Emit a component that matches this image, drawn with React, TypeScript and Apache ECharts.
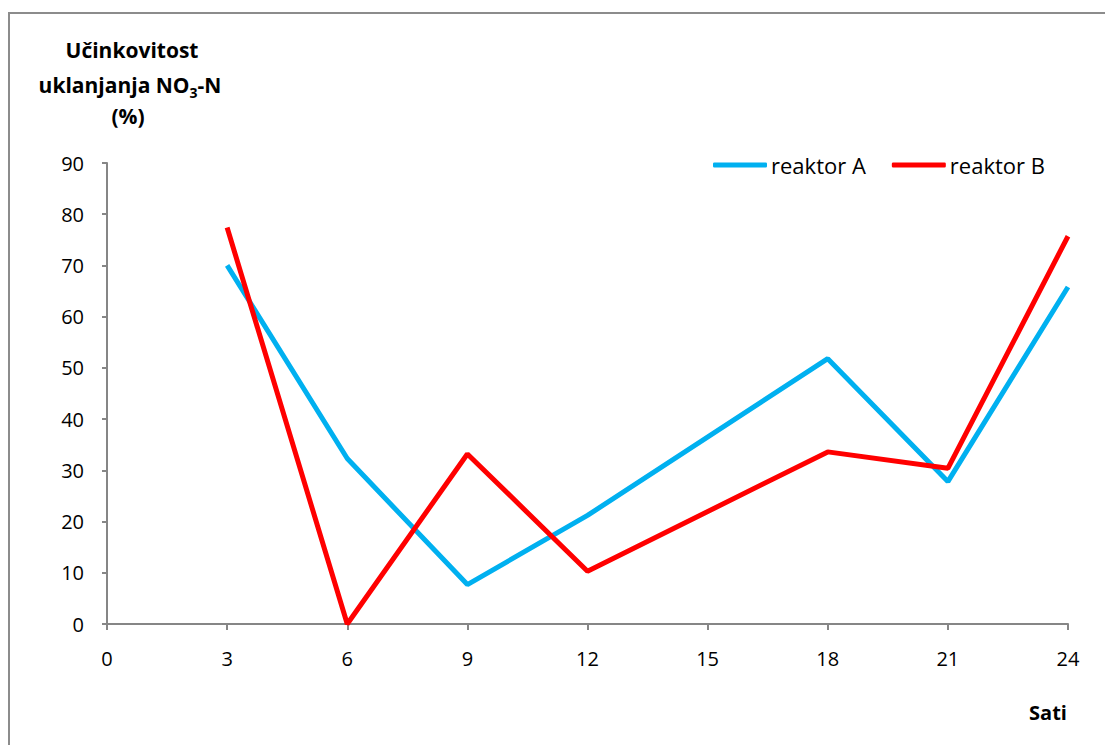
import React, { useEffect, useRef } from "react";
import * as echarts from "echarts";

const hours = [3, 6, 9, 12, 18, 21, 24];
const reaktorA = [70.0, 32.3, 7.7, 21.2, 51.8, 27.8, 65.8];
const reaktorB = [77.4, 0.0, 33.2, 10.3, 33.6, 30.4, 75.7];
const seriesNames = ["reaktor A", "reaktor B"];
const seriesColors = ["#00B0F0", "#FF0000"];

const FONT = "'Open Sans', Lato, sans-serif";

export default function App() {
  const ref = useRef<HTMLDivElement>(null);
  useEffect(() => {
    if (!ref.current) return;
    const chart = echarts.init(ref.current, null, { renderer: "svg" });
    const toPairs = (ys: number[]) => hours.map((h, i) => [h, ys[i]]);
    const bold = { fontSize: 21, fontWeight: "bold", fontFamily: FONT, fill: "#000" };
    chart.setOption({
      animation: false,
      backgroundColor: "#ffffff",
      textStyle: { fontFamily: FONT },
      grid: { left: 107, right: 37, top: 163, bottom: 121, containLabel: false },
      legend: {
        left: 708,
        top: 149,
        itemWidth: 54,
        itemHeight: 5,
        itemGap: 26,
        icon: "roundRect",
        textStyle: { fontSize: 22, color: "#000", fontFamily: FONT, padding: [0, 0, 0, -1] },
        data: seriesNames,
      },
      xAxis: {
        type: "value",
        min: 0,
        max: 24,
        interval: 3,
        splitLine: { show: false },
        axisLine: { show: true, lineStyle: { color: "#868686", width: 2 } },
        axisTick: { show: true, length: 6, lineStyle: { color: "#868686", width: 2 } },
        axisLabel: { fontSize: 20, color: "#000", margin: 24, fontFamily: FONT },
      },
      yAxis: {
        type: "value",
        min: 0,
        max: 90,
        interval: 10,
        splitLine: { show: false },
        axisLine: { show: true, lineStyle: { color: "#868686", width: 2 } },
        axisTick: { show: true, length: 5, lineStyle: { color: "#868686", width: 2 } },
        axisLabel: { fontSize: 20, color: "#000", margin: 23, fontFamily: FONT },
      },
      graphic: [
        {
          type: "rect",
          shape: { x: 9, y: 13, width: 1200, height: 800 },
          style: { fill: "none", stroke: "#8c8c8c", lineWidth: 2 },
          silent: true,
          z: -1,
        },
        {
          type: "text",
          x: 132,
          y: 50,
          style: { ...bold, text: "Učinkovitost", align: "center", verticalAlign: "middle" },
        },
        {
          type: "text",
          x: 130,
          y: 85,
          style: {
            text: "{b|uklanjanja NO}{s|3}{b|-N}",
            align: "center",
            verticalAlign: "middle",
            rich: {
              b: { ...bold, lineHeight: 28 },
              s: { ...bold, fontSize: 14, lineHeight: 28, padding: [14, 0, 0, 0] },
            },
          },
        },
        {
          type: "text",
          x: 128,
          y: 116,
          style: { ...bold, text: "(%)", align: "center", verticalAlign: "middle" },
        },
        {
          type: "text",
          x: 1048,
          y: 712,
          style: { ...bold, fontSize: 20, text: "Sati", align: "center", verticalAlign: "middle" },
        },
      ],
      series: [
        {
          name: seriesNames[0],
          type: "line",
          data: toPairs(reaktorA),
          showSymbol: false,
          symbol: "none",
          lineStyle: { color: seriesColors[0], width: 5 },
          itemStyle: { color: seriesColors[0] },
        },
        {
          name: seriesNames[1],
          type: "line",
          data: toPairs(reaktorB),
          showSymbol: false,
          symbol: "none",
          lineStyle: { color: seriesColors[1], width: 5 },
          itemStyle: { color: seriesColors[1] },
        },
      ],
    });
    return () => chart.dispose();
  }, []);
  return (
    <div
      ref={ref}
      style={{ position: "fixed", left: 0, top: 0, width: 1105, height: 745 }}
    />
  );
}
